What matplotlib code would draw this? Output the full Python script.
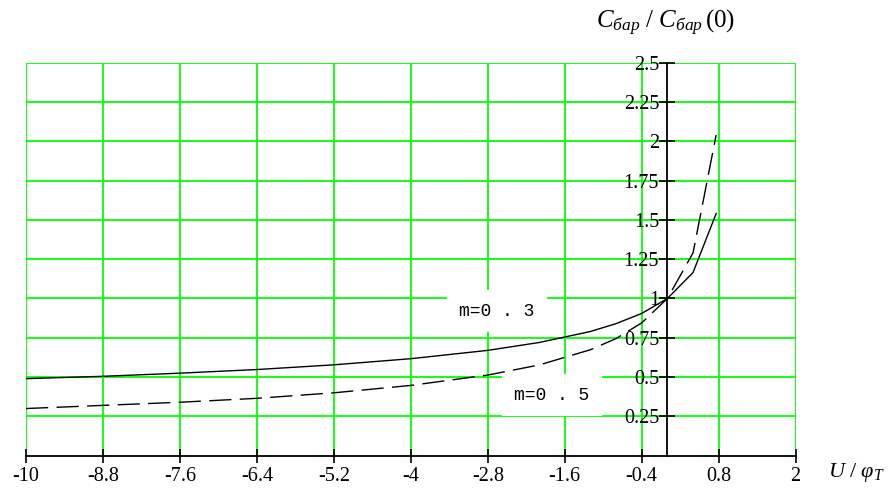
import matplotlib
matplotlib.use("Agg")
import matplotlib.pyplot as plt
import numpy as np

# values
u_points = [-10, -8.8, -7.6, -6.4, -5.2, -4.0, -2.8, -2.0, -1.2, -0.8, -0.4, 0.0, 0.4, 0.76]
c_m03 = [0.49, 0.505, 0.525, 0.548, 0.578, 0.617, 0.67, 0.72, 0.79, 0.84, 0.905, 1.0, 1.165, 1.54]
c_m05 = [0.30, 0.32, 0.34, 0.365, 0.40, 0.447, 0.513, 0.577, 0.674, 0.745, 0.845, 1.0, 1.29, 2.04]

x_ticks = [-10, -8.8, -7.6, -6.4, -5.2, -4, -2.8, -1.6, -0.4, 0.8, 2]
x_tick_labels = ["-10", "-8.8", "-7.6", "-6.4", "-5.2", "-4", "-2.8", "-1.6", "-0.4", "0.8", "2"]
y_ticks = [0.25, 0.5, 0.75, 1, 1.25, 1.5, 1.75, 2, 2.25, 2.5]
y_tick_labels = ["0.25", "0.5", "0.75", "1", "1.25", "1.5", "1.75", "2", "2.25", "2.5"]

plt.rcParams["mathtext.fontset"] = "custom"
plt.rcParams["mathtext.rm"] = "Liberation Serif"
plt.rcParams["mathtext.it"] = "Liberation Serif:italic"

fig = plt.figure(figsize=(8.94, 4.92), dpi=100)
ax = fig.add_axes([0.0291, 0.0738, 0.8609, 0.7988])

green = "#00ff00"
for x in x_ticks:
    ax.axvline(x, color=green, linewidth=1.3, zorder=1)
for y in y_ticks:
    ax.axhline(y, color=green, linewidth=1.3, zorder=1)

ax.plot(u_points, c_m03, color="black", linewidth=1.0, zorder=3)
ax.plot(u_points, c_m05, color="black", linewidth=1.0, dashes=(16, 6), zorder=3)

ax.set_xlim(-10, 2)
ax.set_ylim(0, 2.5)

for side in ["top", "right"]:
    ax.spines[side].set_visible(False)
ax.spines["left"].set_position(("data", 0))
ax.spines["left"].set_linewidth(1.3)
ax.spines["bottom"].set_linewidth(1.3)

ax.set_xticks(x_ticks)
ax.set_xticklabels(x_tick_labels, family="Liberation Serif", fontsize=14.5)
ax.set_yticks(y_ticks)
ax.set_yticklabels(y_tick_labels, family="Liberation Serif", fontsize=14.5)
ax.tick_params(axis="x", direction="inout", length=10, width=1.2, pad=3)
ax.tick_params(axis="y", direction="inout", length=12, width=1.2, pad=0)

label_box = dict(facecolor="white", edgecolor="none", pad=9)
ax.text(-2.66, 0.92, "m=0 . 3", family="Liberation Mono", fontsize=13,
        ha="center", va="center", bbox=label_box, zorder=2)
ax.text(-1.80, 0.386, "m=0 . 5", family="Liberation Mono", fontsize=13,
        ha="center", va="center", bbox=label_box, zorder=2)

fig.text(0.745, 0.953, r"$C_{бар}\ /\ C_{бар}\,(0)$", fontsize=18,
         ha="center", va="center")
fig.text(0.958, 0.040, r"$U\ /\ \varphi_T$", fontsize=16,
         ha="center", va="center")

fig.savefig("out.png", dpi=100, facecolor="white")
